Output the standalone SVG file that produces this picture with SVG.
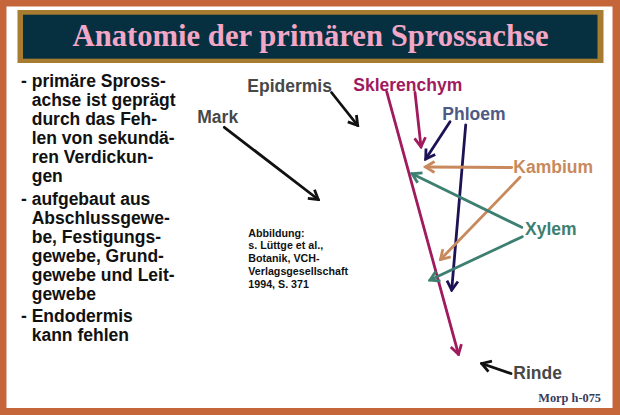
<svg xmlns="http://www.w3.org/2000/svg" width="620" height="415" viewBox="0 0 620 415">
<style>
.t{font-family:"Liberation Sans",Arial,sans-serif;font-weight:bold}
.body{font-size:17.5px;fill:#111}
.lbl{font-size:17.5px}
.cite{font-size:10.7px;fill:#111}
.a{fill:none;stroke-width:2.8;stroke-linecap:round}
</style>
<defs>
<marker id="mk" viewBox="-12 -8 14 16" refX="0" refY="0" markerWidth="14" markerHeight="16" markerUnits="userSpaceOnUse" orient="auto"><path d="M-9,-5.5 L0,0 L-9,5.5" fill="none" stroke="#111" stroke-width="2.8"/></marker>
<marker id="mm" viewBox="-12 -8 14 16" refX="0" refY="0" markerWidth="14" markerHeight="16" markerUnits="userSpaceOnUse" orient="auto"><path d="M-9,-5.5 L0,0 L-9,5.5" fill="none" stroke="#A01A5E" stroke-width="2.8"/></marker>
<marker id="mn" viewBox="-12 -8 14 16" refX="0" refY="0" markerWidth="14" markerHeight="16" markerUnits="userSpaceOnUse" orient="auto"><path d="M-9,-5.5 L0,0 L-9,5.5" fill="none" stroke="#1C1254" stroke-width="2.8"/></marker>
<marker id="mt" viewBox="-12 -8 14 16" refX="0" refY="0" markerWidth="14" markerHeight="16" markerUnits="userSpaceOnUse" orient="auto"><path d="M-9,-5.5 L0,0 L-9,5.5" fill="none" stroke="#C8895C" stroke-width="2.8"/></marker>
<marker id="mx" viewBox="-12 -8 14 16" refX="0" refY="0" markerWidth="14" markerHeight="16" markerUnits="userSpaceOnUse" orient="auto"><path d="M-9,-5.5 L0,0 L-9,5.5" fill="none" stroke="#3D7F70" stroke-width="2.8"/></marker>
</defs>
<rect width="620" height="415" fill="#C4663A"/>
<rect x="6.5" y="6.5" width="606" height="401.5" fill="#FFFFFF"/>
<g id="title">
<rect x="17.5" y="10" width="586" height="53" fill="#A87C30"/>
<rect x="23" y="14.7" width="574.5" height="44" fill="#06303F"/>
<text x="310.5" y="46" text-anchor="middle" font-family="'Liberation Serif','Times New Roman',serif" font-weight="bold" font-size="31" fill="#F2A7C6" textLength="476" lengthAdjust="spacingAndGlyphs">Anatomie der primären Sprossachse</text>
</g>
<g id="bullets" class="t body">
<text x="21" y="87">- primäre Spross-</text>
<text x="31.7" y="106">achse ist geprägt</text>
<text x="31.7" y="125">durch das Feh-</text>
<text x="31.7" y="144">len von sekundä-</text>
<text x="31.7" y="163">ren Verdickun-</text>
<text x="31.7" y="182">gen</text>
<text x="21" y="205">- aufgebaut aus</text>
<text x="31.7" y="224">Abschlussgewe-</text>
<text x="31.7" y="243">be, Festigungs-</text>
<text x="31.7" y="262">gewebe, Grund-</text>
<text x="31.7" y="281">gewebe und Leit-</text>
<text x="31.7" y="300">gewebe</text>
<text x="21" y="322">- Endodermis</text>
<text x="31.7" y="341">kann fehlen</text>
</g>
<g id="citation" class="t cite">
<text x="248.3" y="236.7">Abbildung:</text>
<text x="248.3" y="249.4">s. Lüttge et al.,</text>
<text x="248.3" y="262.1">Botanik, VCH-</text>
<text x="248.3" y="274.8">Verlagsgesellschaft</text>
<text x="248.3" y="287.5">1994, S. 371</text>
</g>
<g id="epidermis"><text class="t lbl" x="247.3" y="91.7" fill="#484848">Epidermis</text></g>
<g id="mark"><text class="t lbl" x="197.3" y="123.3" fill="#484848">Mark</text></g>
<g id="sklerenchym"><text class="t lbl" x="353.3" y="90.7" fill="#A01A5E">Sklerenchym</text></g>
<g id="phloem"><text class="t lbl" x="442.3" y="120" fill="#4E5A85">Phloem</text></g>
<g id="kambium"><text class="t lbl" x="513.3" y="173.3" fill="#C8895C">Kambium</text></g>
<g id="xylem"><text class="t lbl" x="525" y="235" fill="#3D7F70">Xylem</text></g>
<g id="rinde"><text class="t lbl" x="513.3" y="379.3" fill="#484848">Rinde</text></g>
<g id="code"><text x="538.3" y="401.7" font-family="'Liberation Serif','Times New Roman',serif" font-weight="bold" font-size="12.5" fill="#3A3A5A" textLength="62.7" lengthAdjust="spacingAndGlyphs">Morp h-075</text></g>
<g id="connectors">
<line class="a" x1="331.5" y1="92.5" x2="357.7" y2="125.5" stroke="#111" marker-end="url(#mk)"/>
<line class="a" x1="224.3" y1="127.3" x2="318.3" y2="199.5" stroke="#111" marker-end="url(#mk)"/>
<line class="a" x1="386.7" y1="91.7" x2="458.5" y2="354.3" stroke="#A01A5E" marker-end="url(#mm)"/>
<line class="a" x1="415" y1="92.3" x2="421" y2="146.8" stroke="#A01A5E" marker-end="url(#mm)"/>
<line class="a" x1="450" y1="121.7" x2="425.7" y2="159" stroke="#1C1254" marker-end="url(#mn)"/>
<line class="a" x1="465.7" y1="125" x2="451.7" y2="290" stroke="#1C1254" marker-end="url(#mn)"/>
<line class="a" x1="511.7" y1="167.5" x2="425.5" y2="167" stroke="#C8895C" marker-end="url(#mt)"/>
<line class="a" x1="520" y1="177.3" x2="440.5" y2="259.5" stroke="#C8895C" marker-end="url(#mt)"/>
<line class="a" x1="521.7" y1="227.3" x2="412" y2="173.8" stroke="#3D7F70" marker-end="url(#mx)"/>
<line class="a" x1="522.3" y1="236.7" x2="430" y2="280" stroke="#3D7F70" marker-end="url(#mx)"/>
<line class="a" x1="511" y1="373.5" x2="481.7" y2="363.5" stroke="#111" marker-end="url(#mk)"/>
</g>
</svg>
